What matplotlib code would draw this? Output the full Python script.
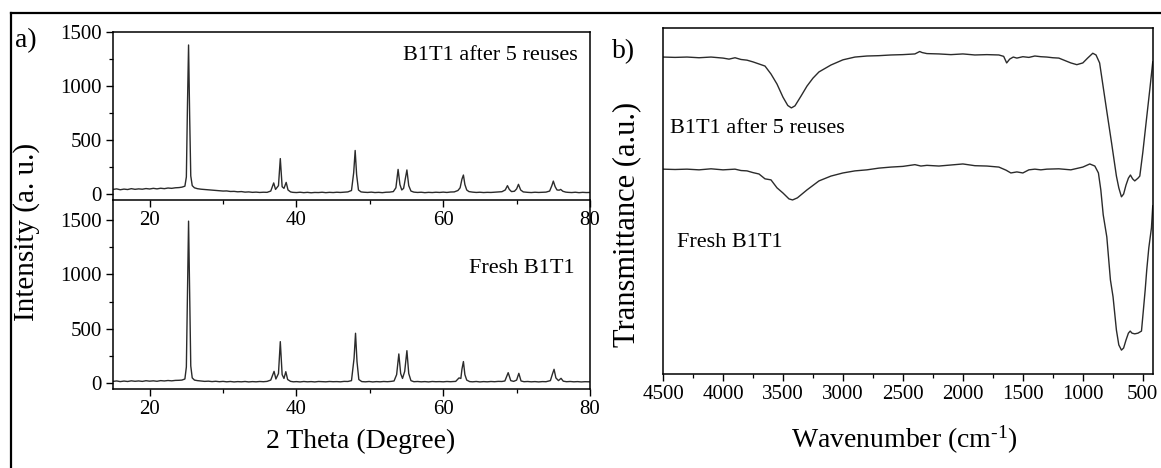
import matplotlib

matplotlib.use("Agg")
import matplotlib.pyplot as plt
from matplotlib.lines import Line2D
from matplotlib.ticker import MultipleLocator

plt.rcParams["font.family"] = ["Liberation Serif", "DejaVu Serif"]
plt.rcParams["mathtext.fontset"] = "custom"
plt.rcParams["mathtext.rm"] = "Liberation Serif"
plt.rcParams["mathtext.it"] = "Liberation Serif:italic"

LINE = "#2b2b2b"

# XRD, catalyst after 5 reuses
xrd_angle_reused = [
    15.0, 15.5, 16.0, 16.5, 17.0, 17.5, 18.0, 18.5, 19.0, 19.5, 20.0, 20.5, 21.0, 21.5,
    22.0, 22.5, 23.0, 23.5, 24.0, 24.4, 24.8, 25.0, 25.15, 25.3, 25.45, 25.6, 25.8, 26.1,
    26.5, 27.0, 27.5, 28.0, 28.5, 29.0, 29.5, 30.0, 30.5, 31.0, 31.5, 32.0, 32.5, 33.0,
    33.5, 34.0, 34.5, 35.0, 35.5, 36.0, 36.5, 36.9, 37.15, 37.55, 37.8, 38.05, 38.3, 38.6,
    38.85, 39.2, 39.5, 40.0, 40.5, 41.0, 41.5, 42.0, 42.5, 43.0, 43.5, 44.0, 44.5, 45.0,
    45.5, 46.0, 46.5, 47.0, 47.5, 47.8, 48.0, 48.2, 48.45, 48.8, 49.2, 49.7, 50.2, 50.7,
    51.2, 51.7, 52.2, 52.7, 53.2, 53.55, 53.85, 54.1, 54.35, 54.6, 54.85, 55.05, 55.3,
    55.6, 56.0, 56.5, 57.0, 57.5, 58.0, 58.5, 59.0, 59.5, 60.0, 60.5, 61.0, 61.5, 62.0,
    62.3, 62.55, 62.75, 62.95, 63.2, 63.5, 64.0, 64.5, 65.0, 65.5, 66.0, 66.5, 67.0, 67.5,
    68.0, 68.45, 68.75, 69.0, 69.3, 69.7, 70.0, 70.25, 70.55, 70.9, 71.5, 72.0, 72.5,
    73.0, 73.5, 74.0, 74.5, 74.8, 75.0, 75.25, 75.5, 75.8, 76.0, 76.3, 76.7, 77.0, 77.5,
    78.0, 78.5, 79.0, 79.5, 80.0,
]
xrd_counts_reused = [
    45, 50, 42, 48, 44, 52, 46, 50, 47, 53, 49, 55, 50, 56,
    52, 58, 55, 60, 62, 66, 75, 160, 820, 1380, 720, 170, 80, 60,
    52, 47, 44, 40, 38, 35, 33, 30, 31, 26, 27, 23, 25, 20,
    22, 18, 20, 17, 19, 18, 30, 105, 45, 80, 330, 70, 55, 110,
    40, 22, 18, 16, 19, 15, 18, 14, 17, 16, 19, 15, 18, 16,
    19, 17, 20, 22, 35, 200, 405, 180, 40, 22, 19, 17, 20, 16,
    18, 15, 19, 20, 25, 60, 230, 90, 40, 55, 150, 225, 80,
    30, 20, 17, 19, 15, 18, 16, 19, 17, 20, 17, 21, 22, 35,
    60, 140, 178, 90, 40, 25, 20, 17, 19, 16, 18, 17, 19, 20,
    24, 40, 80, 45, 25, 28, 50, 92, 40, 22, 18, 16, 19,
    17, 18, 20, 30, 80, 122, 70, 40, 38, 45, 28, 20, 18, 16,
    19, 15, 18, 16, 17,
]

# XRD, fresh catalyst
xrd_angle_fresh = [
    15.0, 15.5, 16.0, 16.5, 17.0, 17.5, 18.0, 18.5, 19.0, 19.5, 20.0, 20.5, 21.0, 21.5,
    22.0, 22.5, 23.0, 23.5, 24.0, 24.4, 24.8, 25.0, 25.15, 25.3, 25.45, 25.6, 25.8, 26.1,
    26.5, 27.0, 27.5, 28.0, 28.5, 29.0, 29.5, 30.0, 30.5, 31.0, 31.5, 32.0, 32.5, 33.0,
    33.5, 34.0, 34.5, 35.0, 35.5, 36.0, 36.5, 36.95, 37.2, 37.55, 37.8, 38.05, 38.3, 38.55,
    38.8, 39.2, 39.6, 40.0, 40.5, 41.0, 41.5, 42.0, 42.5, 43.0, 43.5, 44.0, 44.5, 45.0,
    45.5, 46.0, 46.5, 47.0, 47.5, 47.85, 48.05, 48.25, 48.5, 48.9, 49.4, 49.9, 50.4, 50.9,
    51.4, 51.9, 52.4, 52.9, 53.3, 53.65, 53.95, 54.2, 54.45, 54.75, 55.05, 55.3, 55.6,
    56.0, 56.5, 57.0, 57.5, 58.0, 58.5, 59.0, 59.5, 60.0, 60.5, 61.0, 61.7, 62.15, 62.4,
    62.55, 62.75, 62.95, 63.2, 63.6, 64.0, 64.5, 65.0, 65.5, 66.0, 66.5, 67.0, 67.5, 68.0,
    68.4, 68.85, 69.2, 69.6, 70.0, 70.3, 70.6, 71.0, 71.5, 72.0, 72.5, 73.0, 73.5, 74.0,
    74.6, 74.9, 75.1, 75.35, 75.7, 76.05, 76.35, 76.8, 77.3, 77.8, 78.3, 78.8, 79.3, 80.0,
]
xrd_counts_fresh = [
    18, 22, 16, 21, 17, 23, 19, 22, 18, 24, 20, 23, 19, 25,
    22, 26, 23, 27, 28, 30, 40, 150, 850, 1490, 800, 160, 50, 30,
    25, 22, 18, 20, 16, 19, 15, 18, 14, 17, 13, 16, 14, 17,
    13, 16, 14, 17, 15, 18, 30, 110, 40, 90, 383, 80, 45, 107,
    35, 18, 14, 16, 13, 17, 14, 16, 13, 17, 15, 14, 17, 15,
    16, 14, 18, 17, 25, 230, 460, 200, 35, 16, 14, 17, 13, 16,
    14, 17, 15, 18, 22, 80, 270, 90, 45, 110, 300, 90, 25,
    15, 17, 14, 16, 13, 17, 15, 16, 14, 17, 15, 18, 50, 45,
    130, 200, 80, 30, 16, 14, 17, 13, 16, 14, 17, 15, 18, 17,
    22, 98, 25, 18, 30, 92, 22, 15, 17, 14, 16, 13, 16, 15,
    25, 90, 129, 50, 25, 46, 20, 15, 17, 14, 16, 13, 15, 14,
]

# FTIR, catalyst after 5 reuses (arbitrary transmittance scale)
ftir_wn_reused = [
    4500, 4400, 4300, 4200, 4100, 4000, 3950, 3900, 3850, 3800, 3750, 3700, 3650, 3600,
    3550, 3500, 3460, 3430, 3400, 3350, 3300, 3250, 3200, 3100, 3000, 2900, 2800, 2700,
    2600, 2500, 2400, 2360, 2340, 2300, 2200, 2100, 2000, 1900, 1800, 1700, 1660, 1635,
    1610, 1580, 1550, 1500, 1450, 1400, 1350, 1300, 1250, 1200, 1150, 1100, 1050, 1000,
    960, 917, 890, 860, 830, 800, 760, 720, 700, 678, 660, 640, 620, 603, 585, 567, 540,
    525, 500, 470, 440, 417,
]
ftir_t_reused = [
    91.6, 91.5, 91.6, 91.4, 91.6, 91.3, 91.0, 91.4, 90.9, 90.7, 90.2, 89.6, 89.0, 86.7,
    83.8, 80.0, 77.6, 76.9, 77.5, 80.3, 83.2, 85.5, 87.3, 89.3, 90.8, 91.6, 91.9, 92.0,
    92.2, 92.3, 92.5, 93.2, 92.9, 92.6, 92.5, 92.3, 92.5, 92.2, 92.3, 92.2, 91.8, 89.9,
    91.0, 91.6, 91.3, 91.7, 91.5, 91.9, 91.7, 91.6, 91.4, 91.3, 90.6, 89.9, 89.4, 89.9,
    91.3, 92.7, 92.2, 89.9, 82.9, 75.9, 66.7, 57.2, 53.8, 51.2, 52.0, 54.6, 56.6, 57.5,
    56.4, 55.8, 56.6, 57.2, 64.0, 73.4, 82.7, 90.2,
]

# FTIR, fresh catalyst
ftir_wn_fresh = [
    4500, 4400, 4300, 4200, 4100, 4000, 3900, 3850, 3800, 3750, 3700, 3650, 3600, 3550,
    3500, 3450, 3420, 3380, 3300, 3200, 3100, 3000, 2900, 2800, 2700, 2600, 2500, 2400,
    2350, 2300, 2200, 2100, 2000, 1900, 1800, 1700, 1640, 1600, 1550, 1500, 1450, 1400,
    1350, 1300, 1200, 1100, 1000, 942, 900, 870, 850, 830, 800, 770, 748, 720, 700, 678,
    660, 640, 620, 605, 590, 567, 540, 511, 495, 480, 467, 450, 428, 417,
]
ftir_t_fresh = [
    59.2, 59.1, 59.2, 59.0, 59.3, 59.0, 59.2, 58.8, 58.7, 58.2, 57.8, 56.4, 56.1, 53.8,
    52.3, 50.6, 50.3, 50.9, 53.2, 55.8, 57.2, 58.1, 58.7, 59.0, 59.5, 59.8, 60.0, 60.5,
    60.1, 60.3, 60.1, 60.4, 60.7, 60.2, 60.1, 59.8, 58.9, 58.1, 58.4, 58.1, 59.0, 59.2,
    59.0, 59.2, 59.3, 59.0, 59.8, 60.7, 60.1, 58.1, 53.2, 46.0, 39.6, 27.2, 22.3, 12.7,
    8.4, 6.9, 7.5, 9.8, 11.8, 12.4, 11.8, 11.6, 11.8, 12.4, 18.5, 24.3, 30.1, 36.4,
    42.2, 48.6,
]

xrd_ticks = [20, 40, 60, 80]
ftir_ticks = [4500, 4000, 3500, 3000, 2500, 2000, 1500, 1000, 500]

fig = plt.figure(figsize=(11.61, 4.68), dpi=100)


def style_axes(ax):
    for side in ("left", "right", "top", "bottom"):
        ax.spines[side].set_linewidth(1.1)
    ax.tick_params(which="major", direction="out", length=5, width=1.0, labelsize=15, pad=3)
    ax.tick_params(which="minor", direction="out", length=3, width=0.9)


# bottom XRD panel (fresh)
ax_fresh = fig.add_axes([0.0973, 0.1688, 0.4109, 0.4038])
ax_fresh.plot(xrd_angle_fresh, xrd_counts_fresh, color=LINE, lw=1.0)
ax_fresh.set_xlim(15, 80)
ax_fresh.set_ylim(-52, 1684)
ax_fresh.spines["top"].set_visible(False)
ax_fresh.set_xticks(xrd_ticks)
ax_fresh.xaxis.set_minor_locator(MultipleLocator(10))
ax_fresh.set_yticks([0, 500, 1000, 1500])
ax_fresh.yaxis.set_minor_locator(MultipleLocator(250))
style_axes(ax_fresh)
ax_fresh.text(0.9686, 0.615, "Fresh B1T1", transform=ax_fresh.transAxes,
              ha="right", va="baseline", fontsize=16)

# top XRD panel (after 5 reuses)
ax_reused = fig.add_axes([0.0973, 0.5726, 0.4109, 0.359])
ax_reused.set_zorder(ax_fresh.get_zorder() + 1)
ax_reused.patch.set_alpha(0)
ax_reused.plot(xrd_angle_reused, xrd_counts_reused, color=LINE, lw=1.0)
ax_reused.set_xlim(15, 80)
ax_reused.set_ylim(-53, 1500)
ax_reused.set_xticks(xrd_ticks)
ax_reused.xaxis.set_minor_locator(MultipleLocator(10))
ax_reused.set_yticks([0, 500, 1000, 1500])
ax_reused.yaxis.set_minor_locator(MultipleLocator(250))
style_axes(ax_reused)
ax_reused.text(0.975, 0.833, "B1T1 after 5 reuses", transform=ax_reused.transAxes,
               ha="right", va="baseline", fontsize=16)

# FTIR panel
ax_ir = fig.add_axes([0.5711, 0.2009, 0.4220, 0.7393])
ax_ir.plot(ftir_wn_reused, ftir_t_reused, color=LINE, lw=1.0)
ax_ir.plot(ftir_wn_fresh, ftir_t_fresh, color=LINE, lw=1.0)
ax_ir.set_xlim(4500, 415)
ax_ir.set_ylim(0, 100)
ax_ir.set_xticks(ftir_ticks)
ax_ir.xaxis.set_minor_locator(MultipleLocator(250))
ax_ir.set_yticks([])
style_axes(ax_ir)
ax_ir.text(0.0143, 0.6965, "B1T1 after 5 reuses", transform=ax_ir.transAxes,
           ha="left", va="baseline", fontsize=16)
ax_ir.text(0.0286, 0.367, "Fresh B1T1", transform=ax_ir.transAxes,
           ha="left", va="baseline", fontsize=16)

# shared labels and panel letters
fig.text(27 / 1161, 1 - 232 / 468, "Intensity (a. u.)", rotation=90,
         ha="center", va="center", fontsize=21)
fig.text(361 / 1161, 1 - 448 / 468, "2 Theta (Degree)", ha="center",
         va="baseline", fontsize=20)
fig.text(627 / 1161, 1 - 224 / 468, "Transmittance (a.u.)", rotation=90,
         ha="center", va="center", fontsize=22)
fig.text(904 / 1161, 1 - 448 / 468, r"Wavenumber (cm$^{\text{-}1}$)",
         ha="center", va="baseline", fontsize=20)
fig.text(15 / 1161, 1 - 47 / 468, "a)", ha="left", va="baseline", fontsize=20)
fig.text(612 / 1161, 1 - 58 / 468, "b)", ha="left", va="baseline", fontsize=20)

# frame around the whole figure (left and top edges)
x0, y0 = 10.5 / 1161, 1 - 13 / 468
fig.add_artist(Line2D([x0, x0], [0, y0], transform=fig.transFigure, color="black", lw=1.6))
fig.add_artist(Line2D([x0, 1], [y0, y0], transform=fig.transFigure, color="black", lw=1.6))

fig.savefig("out.png", dpi=100)
